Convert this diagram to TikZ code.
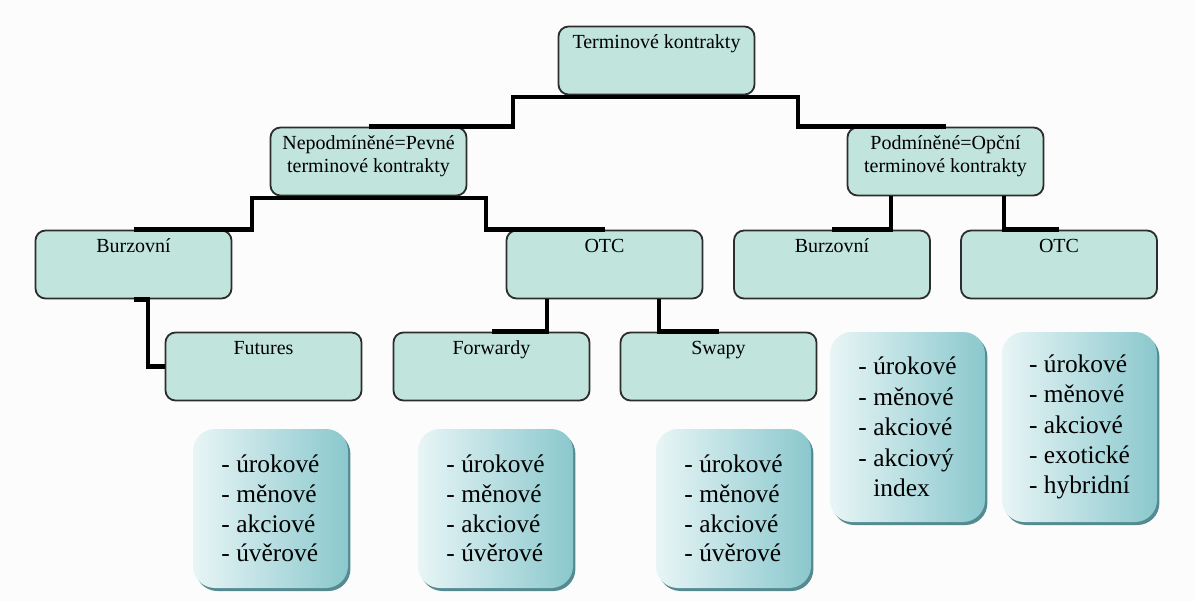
\documentclass[tikz,border=0pt]{standalone}
\usepackage{fontspec}
\setmainfont{Liberation Serif}
\usetikzlibrary{positioning, calc, shadows}

\definecolor{boxfill}{RGB}{193,228,221}
\definecolor{boxline}{RGB}{45,45,45}
\definecolor{listlight}{RGB}{232,245,246}
\definecolor{listdark}{RGB}{138,200,205}
\definecolor{listshadow}{RGB}{84,138,144}
\definecolor{paper}{RGB}{251,252,251}

% text sits at the top of each contract box
\newcommand{\toptext}[1]{\parbox[c][34pt][t]{96pt}{\centering\rule{0pt}{11pt}#1}}

\begin{document}
\begin{tikzpicture}[
    x=0.5pt, y=-0.5pt,
    % Style definitions
    contract/.style={
        rectangle, rounded corners=5pt, draw=boxline, line width=0.9pt,
        fill=boxfill, minimum width=98pt, minimum height=34pt, inner sep=0pt,
        font=\fontsize{10}{11.5}\selectfont
    },
    typelist/.style={
        rectangle, rounded corners=11pt, left color=listlight, right color=listdark,
        minimum width=77.5pt, minimum height=79.5pt, inner sep=0pt,
        align=left, font=\fontsize{12.7}{14.8}\selectfont,
        drop shadow={shadow xshift=1.2pt, shadow yshift=-1.5pt, fill=listshadow, opacity=1}
    },
    talllist/.style={
        typelist, minimum height=95pt, font=\fontsize{12.7}{15.2}\selectfont
    },
    branch/.style={
        draw=black, line width=2.2pt
    },
]

\useasboundingbox (0,0) rectangle (1194,601);
\fill[paper] (0,0) rectangle (1194,601);

% Row positions (top to bottom)
\def\rowTop{60.5}
\def\rowKind{161.5}
\def\rowMarket{264.5}
\def\rowProduct{366.5}
\def\rowList{508.5}
\def\rowListR{427}

% === Contract boxes ===
\node[contract] (top) at (656.5, \rowTop) {\toptext{Terminové kontrakty}};

\node[contract] (fixed) at (368.5, \rowKind) {\toptext{Nepodmíněné=Pevné\\terminové kontrakty}};
\node[contract] (option) at (945.5, \rowKind) {\toptext{Podmíněné=Opční\\terminové kontrakty}};

\node[contract] (burzL) at (133.5, \rowMarket) {\toptext{Burzovní}};
\node[contract] (otcL) at (604.5, \rowMarket) {\toptext{OTC}};
\node[contract] (burzR) at (832, \rowMarket) {\toptext{Burzovní}};
\node[contract] (otcR) at (1059, \rowMarket) {\toptext{OTC}};

\node[contract] (fut) at (263.5, \rowProduct) {\toptext{Futures}};
\node[contract] (fwd) at (491.5, \rowProduct) {\toptext{Forwardy}};
\node[contract] (swap) at (718.5, \rowProduct) {\toptext{Swapy}};

% === Underlying lists ===
\node[typelist] (futList) at (270.5, \rowList) {- úrokové\\- měnové\\- akciové\\- úvěrové};
\node[typelist] (fwdList) at (495.5, \rowList) {- úrokové\\- měnové\\- akciové\\- úvěrové};
\node[typelist] (swapList) at (733.5, \rowList) {- úrokové\\- měnové\\- akciové\\- úvěrové};
\node[talllist] (burzList) at (907.5, \rowListR) {- úrokové\\- měnové\\- akciové\\- akciový\\\hphantom{- }index};
\node[talllist] (otcList) at (1079.5, \rowListR) {- úrokové\\- měnové\\- akciové\\- exotické\\- hybridní};

% === Connectors ===
\draw[branch] (fixed.north) -| ($(top.south)+(-143.5,1.5)$)
    -- ($(top.south)+(141.5,1.5)$) |- (option.north);
\draw[branch] (burzL.north) -| ($(fixed.south)+(-116.5,1.5)$)
    -- ($(fixed.south)+(117.5,1.5)$) |- (otcL.north);
\draw[branch] ($(option.south)+(-54.5,0)$) |- (burzR.north);
\draw[branch] ($(option.south)+(58.5,0)$) |- (otcR.north);
\draw[branch] (burzL.south) -- ++(14.5,0) |- (fut.west);
\draw[branch] ($(otcL.south)+(-57.5,0)$) |- (fwd.north);
\draw[branch] ($(otcL.south)+(54.5,0)$) |- (swap.north);

\end{tikzpicture}
\end{document}
